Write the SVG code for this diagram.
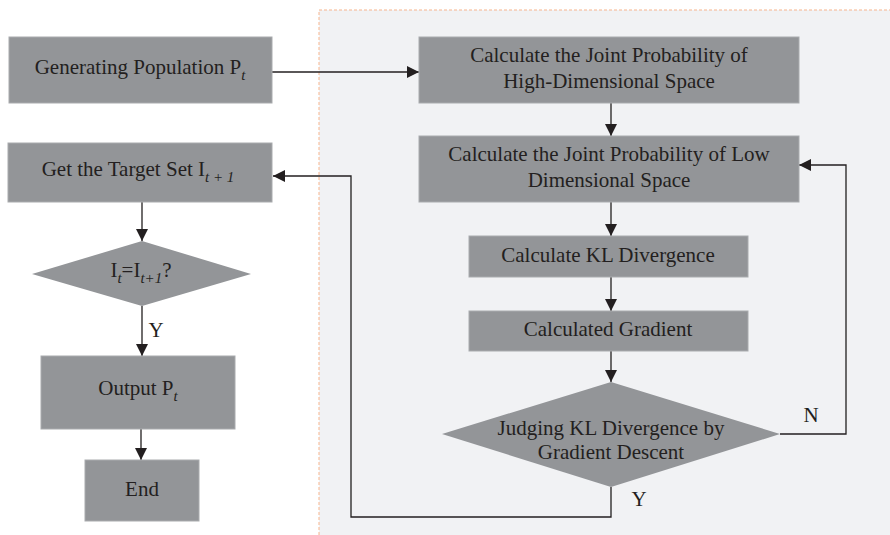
<svg xmlns="http://www.w3.org/2000/svg" width="890" height="535" viewBox="0 0 890 535">
  <style>
    .box { fill: #939598; stroke: #a9abae; stroke-width: 1; }
    .lbl { font-family: "Liberation Serif", "DejaVu Serif", serif; font-size: 21px; fill: #231f20; text-anchor: middle; }
    .sub { font-style: italic; font-size: 15px; }
    .wire { fill: none; stroke: #231f20; stroke-width: 1.3; }
  </style>
  <defs>
    <marker id="arrow" viewBox="0 0 10 10" refX="10" refY="5" markerWidth="12" markerHeight="12" markerUnits="userSpaceOnUse" orient="auto">
      <path d="M0,0 L10,5 L0,10 z" fill="#231f20"/>
    </marker>
  </defs>

  <rect width="890" height="535" fill="#ffffff"/>
  <!-- dashed panel holding the t-SNE steps -->
  <rect x="319" y="10" width="580" height="540" fill="#f1f2f4" stroke="#f7b48d" stroke-width="1" stroke-dasharray="3,2"/>

  <g id="connectors">
    <line class="wire" x1="272" y1="72" x2="419" y2="72" marker-end="url(#arrow)"/>
    <line class="wire" x1="611" y1="103" x2="611" y2="136" marker-end="url(#arrow)"/>
    <line class="wire" x1="611" y1="202" x2="611" y2="236" marker-end="url(#arrow)"/>
    <line class="wire" x1="611" y1="277" x2="611" y2="311" marker-end="url(#arrow)"/>
    <line class="wire" x1="611" y1="351" x2="611" y2="382" marker-end="url(#arrow)"/>
    <polyline class="wire" points="780,434 846,434 846,165 799,165" marker-end="url(#arrow)"/>
    <polyline class="wire" points="611,487 611,517 351,517 351,176 273,176" marker-end="url(#arrow)"/>
    <line class="wire" x1="142" y1="202" x2="142" y2="241" marker-end="url(#arrow)"/>
    <line class="wire" x1="142" y1="306" x2="142" y2="356" marker-end="url(#arrow)"/>
    <line class="wire" x1="141" y1="429" x2="141" y2="460" marker-end="url(#arrow)"/>
    <text class="lbl" x="811" y="422">N</text>
    <text class="lbl" x="639" y="506">Y</text>
    <text class="lbl" x="156" y="337">Y</text>
  </g>

  <g id="generate">
    <rect class="box" x="9" y="37" width="263" height="66"/>
    <text class="lbl" x="140" y="74">Generating Population P<tspan class="sub" dy="6">t</tspan></text>
  </g>

  <g id="joint-high">
    <rect class="box" x="419" y="37" width="380" height="66"/>
    <text class="lbl" x="609" y="62">Calculate the Joint Probability of</text>
    <text class="lbl" x="609" y="88">High-Dimensional Space</text>
  </g>

  <g id="joint-low">
    <rect class="box" x="419" y="136" width="380" height="66"/>
    <text class="lbl" x="609" y="161">Calculate the Joint Probability of Low</text>
    <text class="lbl" x="609" y="187">Dimensional Space</text>
  </g>

  <g id="kl">
    <rect class="box" x="469" y="236" width="279" height="41"/>
    <text class="lbl" x="608" y="262">Calculate KL Divergence</text>
  </g>

  <g id="gradient">
    <rect class="box" x="469" y="311" width="279" height="40"/>
    <text class="lbl" x="608" y="336">Calculated Gradient</text>
  </g>

  <g id="judge">
    <polygon points="611,382 780,434 611,487 442,434" fill="#939598"/>
    <text class="lbl" x="611" y="435">Judging KL Divergence by</text>
    <text class="lbl" x="611" y="459">Gradient Descent</text>
  </g>

  <g id="target">
    <rect class="box" x="8" y="143" width="264" height="59"/>
    <text class="lbl" x="138" y="176">Get the Target Set I<tspan class="sub" dy="6">t + 1</tspan></text>
  </g>

  <g id="compare">
    <polygon points="142,241 251,274 142,306 32,274" fill="#939598"/>
    <text class="lbl" x="141" y="277">I<tspan class="sub" dy="6">t</tspan><tspan dy="-6">=I</tspan><tspan class="sub" dy="6">t+1</tspan><tspan dy="-6">?</tspan></text>
  </g>

  <g id="output">
    <rect class="box" x="41" y="356" width="194" height="73"/>
    <text class="lbl" x="138" y="395">Output P<tspan class="sub" dy="6">t</tspan></text>
  </g>

  <g id="end">
    <rect class="box" x="85" y="460" width="114" height="61"/>
    <text class="lbl" x="142" y="496">End</text>
  </g>
</svg>
